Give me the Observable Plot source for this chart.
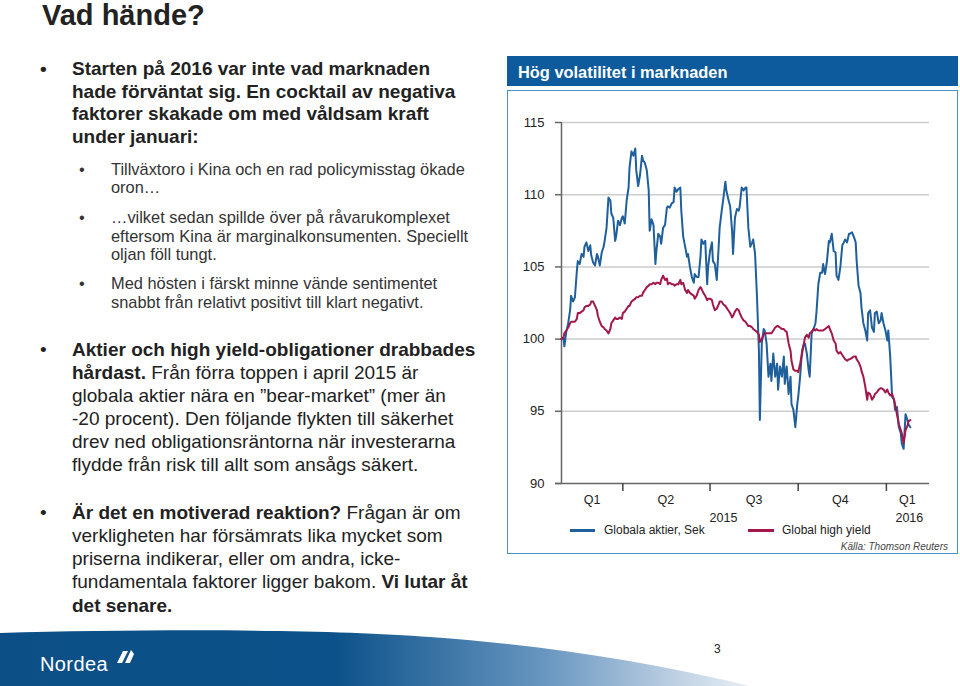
<!DOCTYPE html>
<html>
<head>
<meta charset="utf-8">
<script src="https://cdn.jsdelivr.net/npm/d3@7"></script>
<script src="https://cdn.jsdelivr.net/npm/@observablehq/plot@0.6"></script>
<style>
  html, body { margin: 0; padding: 0; background: #fff; }
  #slide { position: relative; width: 960px; height: 686px; overflow: hidden; font-family: "Liberation Sans", Arial, Helvetica, sans-serif; color: #222; }
  .abs { position: absolute; white-space: nowrap; }
  .title { left: 42px; top: 1px; font-size: 29px; line-height: 28px; font-weight: bold; color: #222; }
  .main { left: 72px; font-size: 19px; color: #222; }
  .sub { left: 111px; font-size: 16.4px; line-height: 18.4px; color: #333; }
  .dot { position: absolute; }
  .bar { left: 507px; top: 56px; width: 440px; height: 30px; padding-left: 11px; background: #0d5a9c; color: #fff; font-weight: bold; font-size: 16.4px; line-height: 32px; }
  .box { left: 507px; top: 90px; width: 451px; height: 464px; border: 1.5px solid #4a8fca; box-sizing: border-box; }
  #chart { position: absolute; left: 507px; top: 91px; }
  .leg { font-size: 12px; line-height: 15px; color: #222; }
  .swatch { position: absolute; height: 2.5px; }
</style>
</head>
<body>
<div id="slide">
  <div class="abs title">Vad hände?</div>

  <div class="abs main" style="top:58px; line-height:22.7px; font-weight:bold;">
    <span class="dot" style="left:-32px;">•</span>Starten på 2016 var inte vad marknaden<br>hade förväntat sig. En cocktail av negativa<br>faktorer skakade om med våldsam kraft<br>under januari:
  </div>

  <div class="abs sub" style="top:160px;"><span class="dot" style="left:-32px;">•</span>Tillväxtoro i Kina och en rad policymisstag ökade<br>oron…</div>
  <div class="abs sub" style="top:208.4px;"><span class="dot" style="left:-32px;">•</span>…vilket sedan spillde över på råvarukomplexet<br>eftersom Kina är marginalkonsumenten. Speciellt<br>oljan föll tungt.</div>
  <div class="abs sub" style="top:274.4px;"><span class="dot" style="left:-32px;">•</span>Med hösten i färskt minne vände sentimentet<br>snabbt från relativt positivt till klart negativt.</div>

  <div class="abs main" style="top:337.9px; line-height:23.1px;">
    <span class="dot" style="left:-32px;">•</span><b>Aktier och high yield-obligationer drabbades<br>hårdast.</b> Från förra toppen i april 2015 är<br>globala aktier nära en ”bear-market” (mer än<br>-20 procent). Den följande flykten till säkerhet<br>drev ned obligationsräntorna när investerarna<br>flydde från risk till allt som ansågs säkert.
  </div>

  <div class="abs main" style="top:501.2px; line-height:23.1px;">
    <span class="dot" style="left:-32px;">•</span><b>Är det en motiverad reaktion?</b> Frågan är om<br>verkligheten har försämrats lika mycket som<br>priserna indikerar, eller om andra, icke-<br>fundamentala faktorer ligger bakom. <b>Vi lutar åt<br>det senare.</b>
  </div>

  <div class="abs bar">Hög volatilitet i marknaden</div>
  <div class="abs box"></div>
  <div id="chart"></div>

  <div class="swatch" style="left:570px; top:529px; width:25px; background:#1f5f9b;"></div>
  <div class="abs leg" style="left:604px; top:523px;">Globala aktier, Sek</div>
  <div class="swatch" style="left:748px; top:529px; width:26px; background:#a3174a;"></div>
  <div class="abs leg" style="left:782px; top:523px;">Global high yield</div>
  <div class="abs" style="right:12px; top:541px; font-size:10px; line-height:12px; font-style:italic; color:#444;">Källa: Thomson Reuters</div>

  <svg class="abs" style="left:0; top:0;" width="960" height="686">
    <defs>
      <linearGradient id="band" x1="0" x2="760" y1="0" y2="0" gradientUnits="userSpaceOnUse">
        <stop offset="0" stop-color="#0b4f86"/>
        <stop offset="0.44" stop-color="#0c5189"/>
        <stop offset="0.72" stop-color="#6a97c1"/>
        <stop offset="0.9" stop-color="#c3d4e5"/>
        <stop offset="1" stop-color="#eef3f8"/>
      </linearGradient>
    </defs>
    <path d="M0,633 C150,629 330,629 430,637 C540,645 640,660 750,686 L0,686 Z" fill="url(#band)"/>
    <path d="M117,663 L123,651 L128,651 L122,663 Z M125,663 L131,650 L134,654 L130,663 Z" fill="#fff"/>
  </svg>
  <div class="abs" style="left:40px; top:653px; font-size:20px; line-height:22px; color:#fff; letter-spacing:0.4px;">Nordea</div>
  <div class="abs" style="left:714px; top:642px; font-size:12px; line-height:14px; color:#222;">3</div>
</div>

<script>
// Observation dates (x)
const dates = [
"2015-01-27","2015-01-29","2015-01-30","2015-02-01","2015-02-03","2015-02-05","2015-02-06","2015-02-08","2015-02-10","2015-02-12",
"2015-02-13","2015-02-15","2015-02-17","2015-02-19","2015-02-20","2015-02-22","2015-02-24","2015-02-26","2015-02-27","2015-03-01",
"2015-03-03","2015-03-05","2015-03-06","2015-03-08","2015-03-10","2015-03-12","2015-03-13","2015-03-15","2015-03-17","2015-03-19",
"2015-03-20","2015-03-22","2015-03-24","2015-03-25","2015-03-27","2015-03-29","2015-03-31","2015-04-01","2015-04-03","2015-04-05",
"2015-04-07","2015-04-08","2015-04-10","2015-04-12","2015-04-14","2015-04-15","2015-04-17","2015-04-19","2015-04-21","2015-04-22",
"2015-04-24","2015-04-26","2015-04-28","2015-04-29","2015-05-01","2015-05-03","2015-05-05","2015-05-06","2015-05-08","2015-05-10",
"2015-05-11","2015-05-13","2015-05-15","2015-05-17","2015-05-18","2015-05-20","2015-05-22","2015-05-24","2015-05-25","2015-05-27",
"2015-05-29","2015-05-31","2015-06-01","2015-06-03","2015-06-05","2015-06-07","2015-06-08","2015-06-10","2015-06-12","2015-06-14",
"2015-06-15","2015-06-17","2015-06-19","2015-06-21","2015-06-22","2015-06-24","2015-06-26","2015-06-28","2015-06-29","2015-07-01",
"2015-07-03","2015-07-04","2015-07-06","2015-07-08","2015-07-10","2015-07-11","2015-07-13","2015-07-15","2015-07-17","2015-07-18",
"2015-07-20","2015-07-22","2015-07-24","2015-07-25","2015-07-27","2015-07-29","2015-07-31","2015-08-01","2015-08-03","2015-08-05",
"2015-08-07","2015-08-08","2015-08-10","2015-08-12","2015-08-14","2015-08-15","2015-08-17","2015-08-19","2015-08-21","2015-08-22",
"2015-08-24","2015-08-26","2015-08-27","2015-08-29","2015-08-31","2015-09-02","2015-09-03","2015-09-05","2015-09-07","2015-09-09",
"2015-09-10","2015-09-12","2015-09-14","2015-09-16","2015-09-17","2015-09-19","2015-09-21","2015-09-23","2015-09-24","2015-09-26",
"2015-09-28","2015-09-30","2015-10-01","2015-10-03","2015-10-05","2015-10-07","2015-10-08","2015-10-10","2015-10-12","2015-10-13",
"2015-10-15","2015-10-17","2015-10-19","2015-10-20","2015-10-22","2015-10-24","2015-10-26","2015-10-27","2015-10-29","2015-10-31",
"2015-11-02","2015-11-03","2015-11-05","2015-11-07","2015-11-09","2015-11-10","2015-11-12","2015-11-14","2015-11-16","2015-11-17",
"2015-11-19","2015-11-21","2015-11-23","2015-11-24","2015-11-26","2015-11-28","2015-11-30","2015-12-01","2015-12-03","2015-12-05",
"2015-12-06","2015-12-08","2015-12-10","2015-12-12","2015-12-13","2015-12-15","2015-12-17","2015-12-19","2015-12-20","2015-12-22",
"2015-12-24","2015-12-26","2015-12-27","2015-12-29","2015-12-31","2016-01-02","2016-01-03","2016-01-05","2016-01-07","2016-01-09",
"2016-01-10","2016-01-12","2016-01-14","2016-01-16","2016-01-17","2016-01-19","2016-01-21","2016-01-23","2016-01-24","2016-01-26"
];

// Globala aktier, Sek (index)
const globalaAktier = [
100.0,100.1,99.5,100.5,101.1,102.0,103.0,102.6,102.9,104.7,
105.4,105.2,105.9,105.7,106.4,106.7,106.1,106.5,105.8,105.3,
105.1,105.9,105.7,105.1,106.0,106.4,106.8,107.7,109.8,109.6,
108.7,108.4,106.8,107.1,108.2,107.9,108.4,108.5,108.0,109.6,
110.5,111.9,113.0,112.7,113.2,111.7,110.6,111.4,112.7,112.4,
112.2,111.7,110.3,107.5,108.3,107.9,105.2,106.1,107.3,107.1,
106.6,107.7,107.9,109.1,109.2,109.1,109.4,109.5,110.5,110.2,
110.4,110.5,108.9,107.1,106.4,105.7,105.9,105.0,104.3,103.9,
104.5,104.3,104.3,105.7,106.9,106.6,106.8,103.8,105.0,106.1,
106.7,105.4,105.2,104.1,106.4,107.7,108.8,109.8,110.9,110.3,
109.7,109.2,107.5,105.9,108.4,109.0,108.9,109.2,110.5,110.3,
110.5,110.5,107.7,106.4,106.7,106.9,105.9,102.9,99.2,94.4,
99.7,100.7,100.6,99.7,97.4,98.3,97.1,99.0,97.4,98.3,
96.5,98.1,97.4,98.8,96.9,98.1,96.2,97.4,95.5,95.1,
93.9,95.5,96.0,97.4,99.2,99.7,99.7,99.0,97.8,97.4,
100.4,100.7,101.1,101.8,103.8,104.6,104.6,105.2,104.5,105.4,
106.8,106.7,107.3,106.1,106.0,104.4,104.1,105.0,106.5,106.6,
106.9,106.7,107.3,107.3,107.4,107.1,106.7,105.4,103.7,103.2,
102.2,101.1,100.6,99.9,101.8,102.0,100.8,100.5,101.8,101.9,
101.1,101.3,101.8,101.1,100.6,99.9,100.6,98.8,96.0,95.8,
95.1,95.3,93.9,93.5,92.8,92.4,94.8,94.4,94.1,93.9
];

// Global high yield (index)
const globalHighYield = [
100.0,100.1,100.4,100.6,100.8,101.1,101.2,101.2,101.2,101.4,
101.8,101.8,101.9,102.0,102.2,102.3,102.3,102.4,102.6,102.6,
102.3,102.0,101.6,101.2,100.9,100.8,100.7,100.6,100.4,100.7,
101.1,101.3,101.5,101.4,101.4,101.5,101.4,101.8,101.9,102.1,
102.3,102.3,102.6,102.7,102.8,102.9,102.9,103.0,103.0,103.2,
103.4,103.6,103.7,103.8,103.8,103.9,103.8,103.9,103.9,103.8,
104.1,104.4,104.1,104.2,103.8,103.9,103.8,103.8,103.7,103.8,
103.8,104.1,103.8,103.9,103.4,103.2,103.4,103.2,103.1,103.0,
102.8,103.0,103.4,103.6,103.5,103.2,103.0,102.7,102.8,102.8,
102.7,102.4,102.0,102.1,102.4,102.6,102.6,102.4,102.3,102.2,
102.0,101.8,101.5,101.6,101.9,102.1,102.0,101.8,101.5,101.3,
101.2,101.1,100.9,100.9,100.8,100.7,100.6,100.5,100.3,99.8,
100.0,100.3,100.4,100.4,100.4,100.4,100.4,100.6,100.8,100.9,
100.9,100.8,100.7,100.7,100.6,100.5,99.7,99.2,98.5,97.9,
97.8,97.8,97.7,98.3,99.0,99.7,100.1,100.3,100.1,100.4,
100.5,100.7,100.6,100.7,100.6,100.6,100.6,100.6,100.7,100.8,
100.9,100.7,100.4,99.9,99.7,99.2,99.0,99.1,98.9,98.8,
98.6,98.5,98.6,98.6,98.7,98.8,98.8,98.6,98.4,98.1,
97.8,97.4,96.7,95.8,96.3,96.2,95.8,96.0,96.2,96.3,
96.5,96.6,96.6,96.5,96.3,96.5,96.3,96.1,96.2,95.8,
95.5,94.8,94.1,93.7,93.5,92.8,93.7,94.0,94.3,94.4
];

const yTicks = [90, 95, 100, 105, 110, 115];
const xDomain = ["2015-01-27", "2016-02-15"];
const quarterTicks = ["2015-04-01", "2015-07-01", "2015-10-01", "2016-01-01"];
const quarterLabels = ["Q1", "Q2", "Q3", "Q4", "Q1"];
const quarterLabelDates = ["2015-02-28", "2015-05-16", "2015-08-16", "2015-11-14", "2016-01-23"];
const yearLabels = ["2015", "2016"];
const yearLabelDates = ["2015-07-15", "2016-01-25"];

const parse = (s) => new Date(s + "T00:00:00Z");
const rows = dates.map((d, i) => ({date: parse(d), aktier: globalaAktier[i], hy: globalHighYield[i]}));
const x0 = parse(xDomain[0]);

const chart = Plot.plot({
  width: 451,
  height: 449,
  marginLeft: 54,
  marginRight: 29,
  marginTop: 31,
  marginBottom: 57,
  style: {fontFamily: "'Liberation Sans', Arial, sans-serif", fontSize: "13px", background: "transparent", color: "#222", overflow: "visible"},
  x: {type: "utc", domain: xDomain.map(parse), label: null},
  y: {domain: [90, 115], label: null},
  marks: [
    Plot.ruleY(yTicks.filter((v) => v > 90), {stroke: "#cdcdcd", strokeWidth: 1.5}),
    Plot.ruleY([90], {stroke: "#666", strokeWidth: 1.5, insetLeft: -6}),
    Plot.ruleX([x0], {y1: 90, y2: 115, stroke: "#666", strokeWidth: 1.5}),
    Plot.axisY({ticks: yTicks, tickSize: 6, tickPadding: 11, stroke: "#666", strokeWidth: 1.5, fontSize: 13, fill: "#222", label: null}),
    Plot.axisX({ticks: quarterTicks.map(parse), tickSize: 8, tickFormat: () => "", stroke: "#444", strokeWidth: 1.5, label: null}),
    Plot.text(quarterLabels, {x: (d, i) => parse(quarterLabelDates[i]), y: () => 90, text: (d) => d, dy: 16, fontSize: 12.5, fill: "#222"}),
    Plot.text(yearLabels, {x: (d, i) => parse(yearLabelDates[i]), y: () => 90, text: (d) => d, dy: 34, fontSize: 12.5, fill: "#222"}),
    Plot.line(rows, {x: "date", y: "aktier", stroke: "#1f5f9b", strokeWidth: 2}),
    Plot.line(rows, {x: "date", y: "hy", stroke: "#a3174a", strokeWidth: 2})
  ]
});
document.getElementById("chart").appendChild(chart);
</script>
</body>
</html>
